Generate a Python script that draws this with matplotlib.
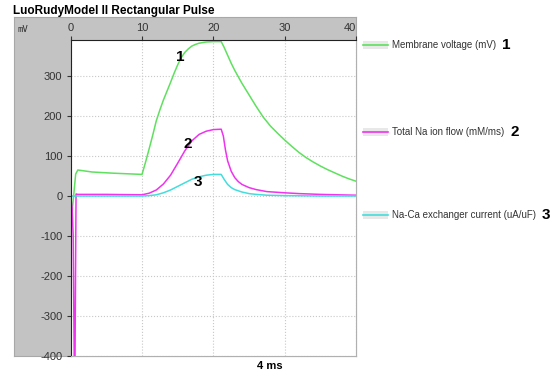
import matplotlib
matplotlib.use('Agg')
import matplotlib.pyplot as plt
from matplotlib.patches import Rectangle
from matplotlib.lines import Line2D

# time in ms
v_t = [0, 0.3, 0.7, 1.0, 3, 6, 10, 10.5, 11, 11.5, 12, 12.5, 13, 13.5, 14, 14.5, 15, 15.5, 16,
       16.5, 17, 17.5, 18, 19, 20, 21.1, 21.5, 22, 22.5, 23, 24, 25, 26, 27, 28, 29, 30, 31,
       32, 33, 34, 35, 36, 37, 38, 39, 40]
v_mv = [-90, -20, 55, 65, 60, 57, 54, 85, 118, 152, 188, 215, 240, 262, 284, 307, 328, 346, 359,
        368, 375, 379, 382, 385, 386, 386, 372, 352, 332, 314, 282, 253, 224, 197, 175, 157, 140, 124,
        109, 96, 85, 75, 66, 58, 50, 43, 37]

na_t = [0, 0.2, 0.35, 0.5, 0.6, 0.75, 1.0, 5, 10, 11, 12, 13, 14, 15, 16, 17, 18, 19, 20, 21.1,
        21.4, 21.7, 22, 22.5, 23, 23.5, 24, 25, 26, 27.5, 30, 32, 35, 40]
na_flow = [0, -30, -100, -420, -420, 5, 4, 4, 3, 7, 15, 30, 52, 82, 113, 138, 154, 162, 166, 167,
           150, 115, 88, 62, 46, 36, 29, 21, 16, 11, 8, 6, 4, 2]

ca_t = [0, 10, 11, 12, 13, 14, 15, 16, 17, 18, 19, 20, 21.1, 21.5, 22, 22.5, 23, 24, 25, 26,
        27.5, 30, 35, 40]
ca_cur = [0, 0, 1, 3, 8, 15, 24, 33, 42, 48, 52, 54, 54, 42, 29, 21, 16, 10, 6, 4, 2, 1, 0, 0]

series = [
    ('Membrane voltage (mV)', '1', '#5fe05f', v_t, v_mv),
    ('Total Na ion flow (mM/ms)', '2', '#ee33ee', na_t, na_flow),
    ('Na-Ca exchanger current (uA/uF)', '3', '#44dddd', ca_t, ca_cur),
]
x_ticks = [0, 10, 20, 30, 40]
y_ticks = [-400, -300, -200, -100, 0, 100, 200, 300]
labels_xy = [(15.3, 347), (16.4, 130), (17.9, 35)]

W, H = 554, 374
plt.rcParams['font.family'] = ['Liberation Sans', 'DejaVu Sans']
plt.rcParams['axes.unicode_minus'] = False
fig = plt.figure(figsize=(W / 100, H / 100), dpi=100)

# gray frame behind plot
bg = fig.add_axes([14 / W, 1 - 356 / H, (356 - 14) / W, (356 - 17) / H], zorder=0)
bg.set_facecolor('#c3c3c3')
bg.set_xticks([])
bg.set_yticks([])
for s in bg.spines.values():
    s.set_color('#a8a8a8')
    s.set_linewidth(0.8)

ax = fig.add_axes([70.7 / W, 1 - 356 / H, (356 - 70.7) / W, (356 - 40) / H], zorder=2)
ax.set_facecolor('white')
ax.set_xlim(0, 40)
ax.set_ylim(-400, 390)

for name, num, col, t, y in series:
    ax.plot(t, y, color=col, lw=1.1)

for (lx, ly), (_, num, _, _, _) in zip(labels_xy, series):
    ax.text(lx, ly, num, fontsize=11, fontweight='bold', ha='center', va='center', color='black')

ax.set_xticks(x_ticks)
ax.set_yticks(y_ticks)
ax.xaxis.tick_top()
ax.tick_params(axis='x', direction='out', length=3, pad=2, labelsize=8, labelcolor='#333333', color='#333333')
ax.tick_params(axis='y', direction='out', length=3, pad=3, labelsize=8, labelcolor='#333333', color='#333333')
ax.get_xticklabels()[-1].set_horizontalalignment('right')
ax.grid(True, color='#c8c8c8', ls=':', lw=0.8)
ax.spines['top'].set_color('#222222')
ax.spines['left'].set_color('#222222')
ax.spines['right'].set_color('#b0b0b0')
ax.spines['bottom'].set_color('#b0b0b0')

fig.text(13 / W, 1 - 11 / H, 'LuoRudyModel II Rectangular Pulse', fontsize=8.5, fontweight='bold',
         va='center', ha='left')
fig.text(17 / W, 1 - 29 / H, 'mV', fontsize=6.5, family='DejaVu Sans Mono', va='center', ha='left',
         color='#333333', zorder=3)
fig.text(270 / W, 1 - 366 / H, '4 ms', fontsize=8, fontweight='bold', va='center', ha='center')

# legend
leg_y = [45, 132, 215]
for (name, num, col, _, _), ly in zip(series, leg_y):
    yf = 1 - ly / H
    fig.patches.append(Rectangle((363 / W, yf - 4 / H), 25 / W, 8 / H, transform=fig.transFigure,
                                 facecolor='#e8e8e8', edgecolor='none'))
    fig.lines.append(Line2D([363 / W, 388 / W], [yf, yf], transform=fig.transFigure, color=col, lw=1.2))
    t = fig.text(392 / W, yf, name, fontsize=7, va='center', ha='left', color='#333333')
    fig.canvas.draw()
    bb = t.get_window_extent()
    fig.text(bb.x1 / W + 6 / W, yf, num, fontsize=11, fontweight='bold', va='center', ha='left')

fig.savefig('out.png', dpi=100)
